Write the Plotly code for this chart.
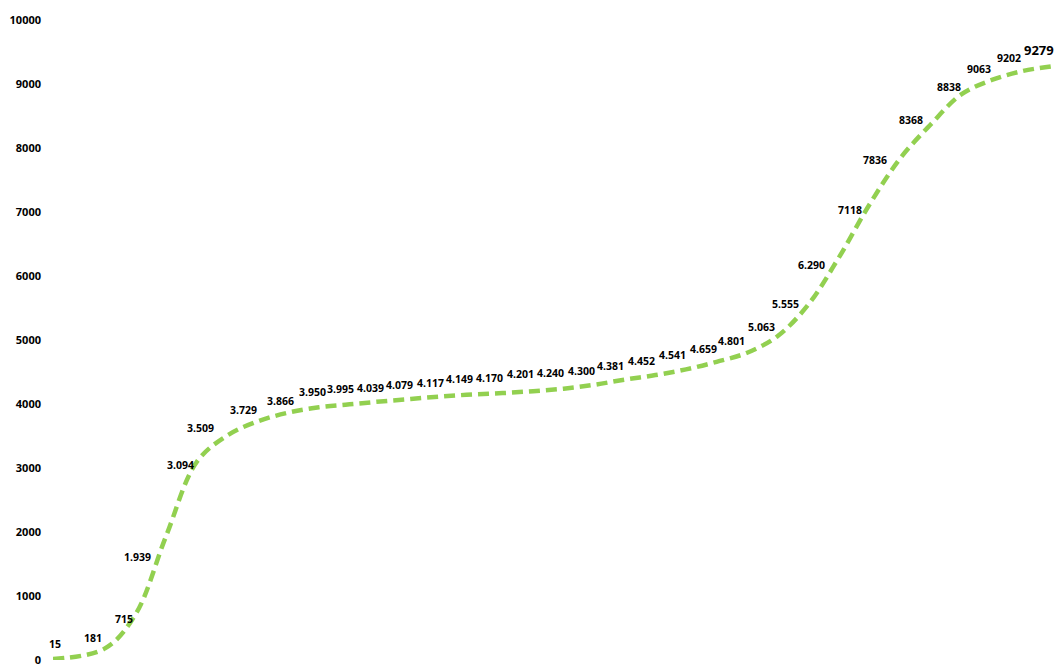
import plotly.graph_objects as go

# reporting steps (the first interval is longer than the rest)
steps = [0.0, 1.7, 2.7, 3.7, 4.7, 5.7, 6.7, 7.7, 8.7, 9.7, 10.7, 11.7, 12.7,
         13.7, 14.7, 15.7, 16.7, 17.7, 18.7, 19.7, 20.7, 21.7, 22.7, 23.7,
         24.7, 25.7, 26.7, 27.7, 28.7, 29.7, 30.7, 31.7, 32.7]
# cumulative totals, one per reporting step
totals = [15, 181, 715, 1939, 3094, 3509, 3729, 3866, 3950, 3995, 4039, 4079,
          4117, 4149, 4170, 4201, 4240, 4300, 4381, 4452, 4541, 4659, 4801,
          5063, 5555, 6290, 7118, 7836, 8368, 8838, 9063, 9202, 9279]
point_labels = ["15", "181", "715", "1.939", "3.094", "3.509", "3.729", "3.866",
                "3.950", "3.995", "4.039", "4.079", "4.117", "4.149", "4.170",
                "4.201", "4.240", "4.300", "4.381", "4.452", "4.541", "4.659",
                "4.801", "5.063", "5.555", "6.290", "7118", "7836", "8368",
                "8838", "9063", "9202", "9279"]
y_ticks = [0, 1000, 2000, 3000, 4000, 5000, 6000, 7000, 8000, 9000, 10000]

# label placement, pixel offset of each label centre from its point (dx, up)
label_offsets = [(2, 15), (-12, 10), (-12, -5), (-29, -21), (-16, -3),
                 (-27, 7), (-14, 11), (-8, 12), (-7, 15), (-9, 15),
                 (-10, 14), (-11, 14), (-11, 14), (-12, 15), (-13, 15),
                 (-13, 17), (-13, 16), (-13, 14), (-14, 14), (-14, 14),
                 (-14, 14), (-13, 13), (-16, 12), (-16, 9), (-23, 0),
                 (-27, -8), (-20, -6), (-25, -1), (-20, 4), (-12, 7),
                 (-13, 11), (-13, 13), (-14, 16)]
label_sizes = [10.5] * 32 + [13]

fig = go.Figure()
fig.add_trace(go.Scatter(
    x=steps,
    y=totals,
    mode="lines",
    line=dict(color="#92D050", width=4.5, dash="11px,6px", shape="spline",
              smoothing=1),
    hoverinfo="skip",
))

for xv, yv, txt, (dx, dy), fs in zip(steps, totals, point_labels,
                                     label_offsets, label_sizes):
    fig.add_annotation(
        x=xv, y=yv, text=txt, showarrow=False,
        xanchor="center", yanchor="middle", xshift=dx, yshift=dy,
        font=dict(family="Open Sans", size=fs, color="#000000", weight="bold"),
    )

fig.update_layout(
    width=1054,
    height=666,
    margin=dict(l=53, r=1, t=20, b=6),
    paper_bgcolor="white",
    plot_bgcolor="white",
    showlegend=False,
    xaxis=dict(visible=False, range=[0, 32.7], automargin=False),
    yaxis=dict(
        range=[0, 10000],
        tickvals=y_ticks,
        ticktext=[str(v) for v in y_ticks],
        showgrid=False,
        zeroline=False,
        showline=False,
        ticks="",
        ticklabelstandoff=11,
        ticklabeloverflow="allow",
        automargin=False,
        tickfont=dict(family="Open Sans", size=11, color="#000000",
                      weight="bold"),
    ),
)

fig.write_html("out.html")
